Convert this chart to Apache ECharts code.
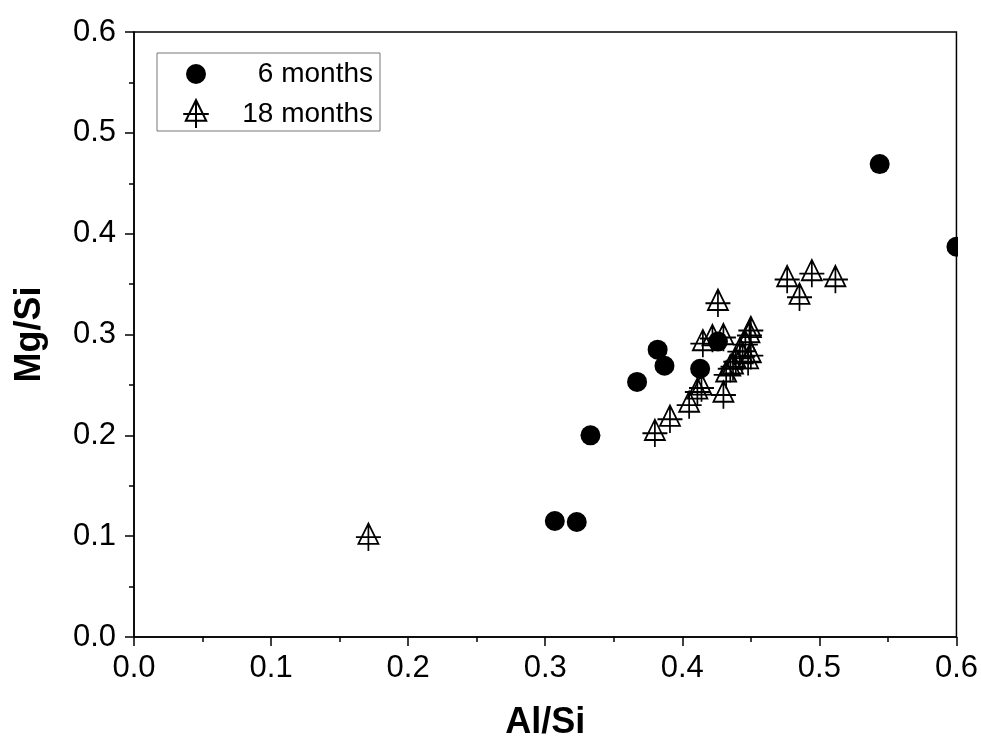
<!DOCTYPE html>
<html>
<head>
<meta charset="utf-8">
<script src="https://cdn.jsdelivr.net/npm/echarts@6/dist/echarts.min.js"></script>
<style>html,body{margin:0;padding:0;background:#fff}#c{width:981px;height:749px}</style>
</head>
<body>
<div id="c"></div>
<script>
const seriesNames = ['6 months', '18 months'];
const sixMonths = [
  [0.307, 0.115], [0.323, 0.114], [0.333, 0.200], [0.367, 0.253],
  [0.382, 0.285], [0.387, 0.269], [0.413, 0.266], [0.426, 0.293],
  [0.544, 0.469], [0.600, 0.387]
];
const eighteenMonths = [
  [0.171, 0.099], [0.380, 0.202], [0.391, 0.216], [0.405, 0.230],
  [0.411, 0.243], [0.414, 0.247], [0.430, 0.240], [0.415, 0.291],
  [0.422, 0.296], [0.430, 0.297], [0.426, 0.331], [0.450, 0.304],
  [0.449, 0.299], [0.442, 0.283], [0.446, 0.290], [0.439, 0.273],
  [0.435, 0.266], [0.432, 0.260], [0.448, 0.273], [0.450, 0.279],
  [0.444, 0.278], [0.437, 0.268], [0.4765, 0.3545], [0.4945, 0.3604],
  [0.5117, 0.3545], [0.4855, 0.337]
];
const xTitle = 'Al/Si';
const yTitle = 'Mg/Si';

const triPath = 'path://M0,-13.7 L10,6.7 L-10,6.7 Z M-12.5,0 L12.5,0 M0,-13.7 L0,13.7';
const circleLegendPath = 'path://M-14,-14 M14,14 M0,-10 A10,10 0 1,1 0,10 A10,10 0 1,1 0,-10 Z';
const FONT = '"Liberation Sans", Arial, sans-serif';

const chart = echarts.init(document.getElementById('c'), null, {renderer: 'canvas'});
chart.setOption({
  animation: false,
  backgroundColor: '#fff',
  grid: {left: 134, right: 24, top: 32, bottom: 112, show: true, borderColor: '#000', borderWidth: 1.5, backgroundColor: 'transparent'},
  legend: {
    left: 157, top: 53, orient: 'vertical',
    backgroundColor: '#fff',
    borderColor: '#777', borderWidth: 1,
    padding: [7, 7, 2, 25],
    itemWidth: 28, itemHeight: 28, itemGap: 11,
    data: [
      {name: seriesNames[0], icon: circleLegendPath},
      {name: seriesNames[1]}
    ],
    formatter: function (n) { return '{a|' + n + '}'; },
    textStyle: {
      color: '#000', fontFamily: FONT, fontSize: 28,
      rich: {a: {width: 158, align: 'right', fontSize: 28, fontFamily: FONT, lineHeight: 28, color: '#000'}}
    }
  },
  xAxis: {
    type: 'value', min: 0, max: 0.6, interval: 0.1,
    name: xTitle, nameLocation: 'middle', nameGap: 68,
    nameTextStyle: {fontFamily: FONT, fontSize: 36, fontWeight: 'bold', color: '#000'},
    axisLine: {show: true, onZero: false, lineStyle: {color: '#000', width: 1.5}},
    axisTick: {show: true, inside: false, length: 9, lineStyle: {color: '#000', width: 1.5}},
    minorTick: {show: true, splitNumber: 2, length: 5, lineStyle: {color: '#000', width: 1.5}},
    splitLine: {show: false},
    axisLabel: {fontFamily: FONT, fontSize: 31, color: '#000', margin: 16, formatter: v => v.toFixed(1)}
  },
  yAxis: {
    type: 'value', min: 0, max: 0.6, interval: 0.1,
    name: yTitle, nameLocation: 'middle', nameGap: 86, nameRotate: 90,
    nameTextStyle: {fontFamily: FONT, fontSize: 36, fontWeight: 'bold', color: '#000'},
    axisLine: {show: true, onZero: false, lineStyle: {color: '#000', width: 1.5}},
    axisTick: {show: true, inside: false, length: 9, lineStyle: {color: '#000', width: 1.5}},
    minorTick: {show: true, splitNumber: 2, length: 5, lineStyle: {color: '#000', width: 1.5}},
    splitLine: {show: false},
    axisLabel: {fontFamily: FONT, fontSize: 31, color: '#000', margin: 18, formatter: v => v.toFixed(1)}
  },
  graphic: [{
    type: 'rect', z: 100, silent: true,
    shape: {x: 958, y: 0, width: 30, height: 636},
    style: {fill: '#fff'}
  }],
  series: [
    {
      name: seriesNames[0], type: 'scatter', data: sixMonths,
      symbol: 'circle', symbolSize: 20, clip: false,
      itemStyle: {color: '#000', opacity: 1}
    },
    {
      name: seriesNames[1], type: 'scatter', data: eighteenMonths,
      symbol: triPath, symbolSize: [25, 27.4], symbolKeepAspect: false, clip: false,
      itemStyle: {color: 'rgba(0,0,0,0)', borderColor: '#000', borderWidth: 1.8, opacity: 1}
    }
  ]
});
</script>
</body>
</html>
